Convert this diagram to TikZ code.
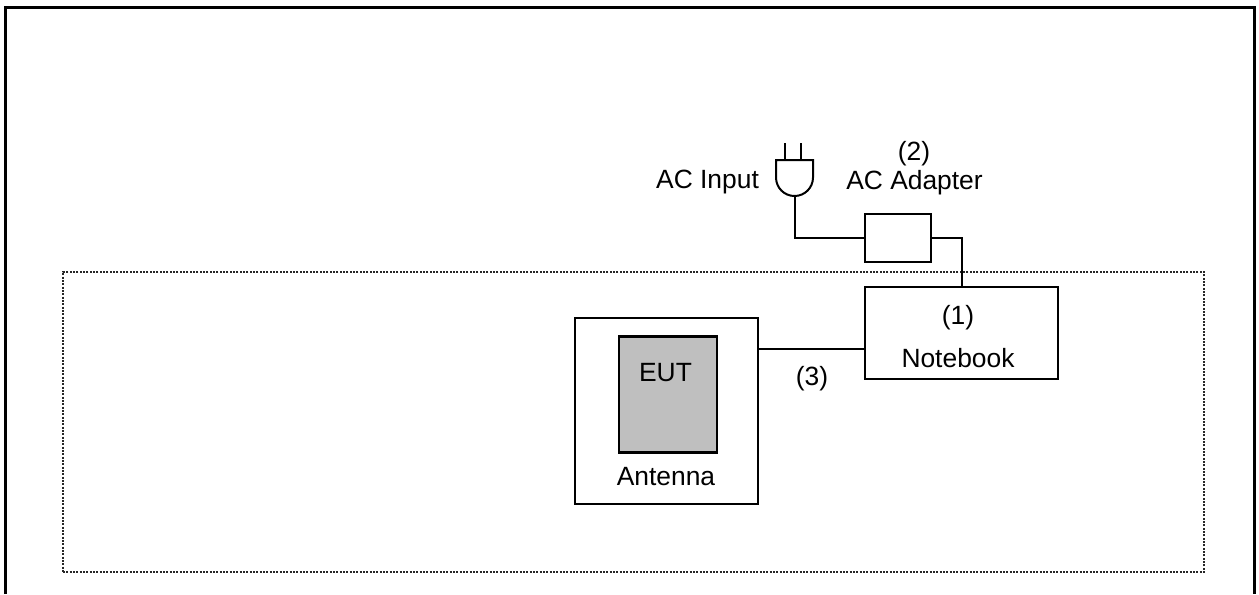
\documentclass[tikz,border=0pt]{standalone}
\usepackage{fontspec}
\setmainfont{Liberation Sans}
\begin{document}
\begin{tikzpicture}[x=0.75pt,y=-0.75pt,
  box/.style={draw=black,line width=1.5pt,inner sep=0pt,anchor=north west},
  wire/.style={draw=black,line width=1.5pt},
  thinwire/.style={draw=black,line width=1.3pt},
  lbl/.style={inner sep=0pt,anchor=base,font=\fontsize{19.8pt}{23pt}\selectfont,text=black}]
\useasboundingbox (0,0) rectangle (1259,594);
\fill[white] (0,0) rectangle (1259,594);
\coordinate (fbl) at (5.5,594); \coordinate (ftl) at (5.5,7.5);
\coordinate (ftr) at (1254.7,7.5); \coordinate (fbr) at (1254.7,594);
\draw[line width=2.3pt,miter limit=10] (fbl) -- (ftl) -- (ftr) -- (fbr);
\node[box,draw=black!85,densely dotted,minimum width=1141*0.75pt,minimum height=300*0.75pt] (room) at (62,271) {};
\node[box,minimum width=193.5*0.75pt,minimum height=92*0.75pt] (nb) at (863.5,286) {};
\node[box,minimum width=65.5*0.75pt,minimum height=48*0.75pt] (ad) at (864,213) {};
\node[box,line width=1.3pt,minimum width=183*0.75pt,minimum height=186*0.75pt] (ant) at (574,317) {};
\node[box,line width=2pt,fill=black!25,minimum width=98*0.75pt,minimum height=116*0.75pt] (eut) at (617.5,335) {};
% plug
\coordinate (pl) at (776,160); \coordinate (pr) at (813,160); \coordinate (pb) at (794.5,196);
\coordinate (p1t) at (784.7,143); \coordinate (p1b) at (784.7,160);
\coordinate (p2t) at (800.7,143); \coordinate (p2b) at (800.7,160);
\draw[wire] (pl) -- (pr) -- (813,177.5) arc[start angle=0,end angle=-180,radius=18.5*0.75pt] -- cycle;
\draw[wire] (p1t) -- (p1b);
\draw[wire] (p2t) -- (p2b);
\draw[wire] (pb) |- (ad.west);
\coordinate (nbin) at (961.5,286);
\draw[wire] (ad.east) -| (nbin);
\coordinate (aw) at (757.5,349);
\draw[thinwire] (aw) -- (nb.west |- aw);
\node[lbl] (t1) at (958,324) {(1)};
\node[lbl] (t2) at (958,367) {Notebook};
\node[lbl] (t3) at (812,385) {(3)};
\node[lbl] (t4) at (665.5,381.5) {EUT};
\node[lbl] (t5) at (666,485) {Antenna};
\node[lbl] (acin) at (707.5,188) {AC Input};
\node[lbl] (adn) at (914,160) {(2)};
\node[lbl] (adt) at (914.5,189) {AC Adapter};
\end{tikzpicture}
\end{document}
